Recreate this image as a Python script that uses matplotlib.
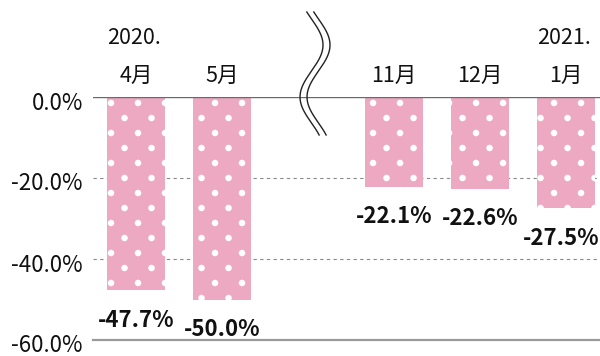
import numpy as np
import matplotlib
matplotlib.use("Agg")
import matplotlib.pyplot as plt
from matplotlib.transforms import IdentityTransform

plt.rcParams['font.family'] = ['Noto Sans CJK JP', 'DejaVu Sans']

# ---- data ----
months = ['4月', '5月', '11月', '12月', '1月']
years = ['2020.', '', '', '', '2021.']
values = [-47.7, -50.0, -22.1, -22.6, -27.5]
value_labels = ['-47.7%', '-50.0%', '-22.1%', '-22.6%', '-27.5%']
yticks = [0, -20, -40, -60]
ytick_labels = ['0.0%', '-20.0%', '-40.0%', '-60.0%']
x_pos = [0, 1, 3, 4, 5]   # gap at 2 for the break mark

PINK = '#EEA9C2'

fig = plt.figure(figsize=(6.0, 3.56), dpi=100)
ax = fig.add_axes([93/600, 16/356, 507/600, 243/356])
ax.set_xlim(-0.5, 5.395)
ax.set_ylim(-60, 0)
ax.axis('off')

# grid lines
ax.axhline(0, color='#6a6a6a', lw=1.0, zorder=4)
ax.axhline(-60, color='#9a9a9a', lw=1.6, zorder=1, clip_on=False)
for v in (-20, -40):
    ax.axhline(v, color='#8a8a8a', lw=0.8, ls=(0, (3, 3)), zorder=1)

bars = ax.bar(x_pos, values, width=0.674, color=PINK, zorder=2)

# polka dots (pixel pattern converted to data units)
px_x = 86.0          # pixels per x unit
px_y = 243.0 / 60.0  # pixels per y unit
dx = 27.0 / px_x
dy = 15.0 / px_y
phases = [4, 22, 8, 25, 17]  # pixel phase of first row per bar
for bar, ph in zip(bars, phases):
    x0 = bar.get_x()
    w = bar.get_width()
    h = bar.get_height()
    xs, ys = [], []
    row = 0
    y = -6.0 / px_y
    while y > h - dy:
        off = ph / px_x + (0 if row % 2 == 0 else -dx / 2)
        xx = x0 + off - dx
        while xx < x0 + w + dx:
            xs.append(xx)
            ys.append(y)
            xx += dx
        y -= dy
        row += 1
    sc = ax.scatter(xs, ys, s=22, color='white', edgecolors='none', zorder=3)
    sc.set_clip_path(bar)

# value labels
label_shift = [0, 0, 0, 0, -5]
for x, v, lab, sh in zip(x_pos, values, value_labels, label_shift):
    ax.annotate(lab, xy=(x, v), xytext=(sh, -30), textcoords='offset pixels',
                ha='center', va='center', fontsize=16, fontweight='bold',
                color='#111111', annotation_clip=False)

# category labels
for x, m, yr in zip(x_pos, months, years):
    ax.annotate(m, xy=(x, 0), xytext=(0, 21), textcoords='offset pixels',
                ha='center', va='center', fontsize=15.5, color='#111111',
                annotation_clip=False)
    if yr:
        ax.annotate(yr, xy=(x, 0), xytext=(-2, 59), textcoords='offset pixels',
                    ha='center', va='center', fontsize=15.5, color='#111111',
                    annotation_clip=False)

# y tick labels
for v, lab in zip(yticks, ytick_labels):
    ax.annotate(lab, xy=(0, v), xycoords=('axes fraction', 'data'),
                xytext=(-10, -6), textcoords='offset pixels',
                ha='right', va='center', fontsize=16, color='#111111',
                annotation_clip=False)

# break mark (double wavy line)
ax_x, ax_y = ax.transData.transform((2, 0))
yy = np.linspace(-38, 85, 200)          # pixel offsets relative to zero line (up positive)
ref_y = 97 - yy                          # top-down pixel coordinate
xx = 3.5 + 11.5 * np.cos(2 * np.pi * (ref_y - 45) / 104)
for shift in (0, 7):
    pts_x = ax_x + xx + shift
    pts_y = ax_y + yy
    ax.plot(pts_x, pts_y, color='#222222', lw=1.0, transform=IdentityTransform(),
            clip_on=False, zorder=5)

fig.savefig('out.png', dpi=100)
